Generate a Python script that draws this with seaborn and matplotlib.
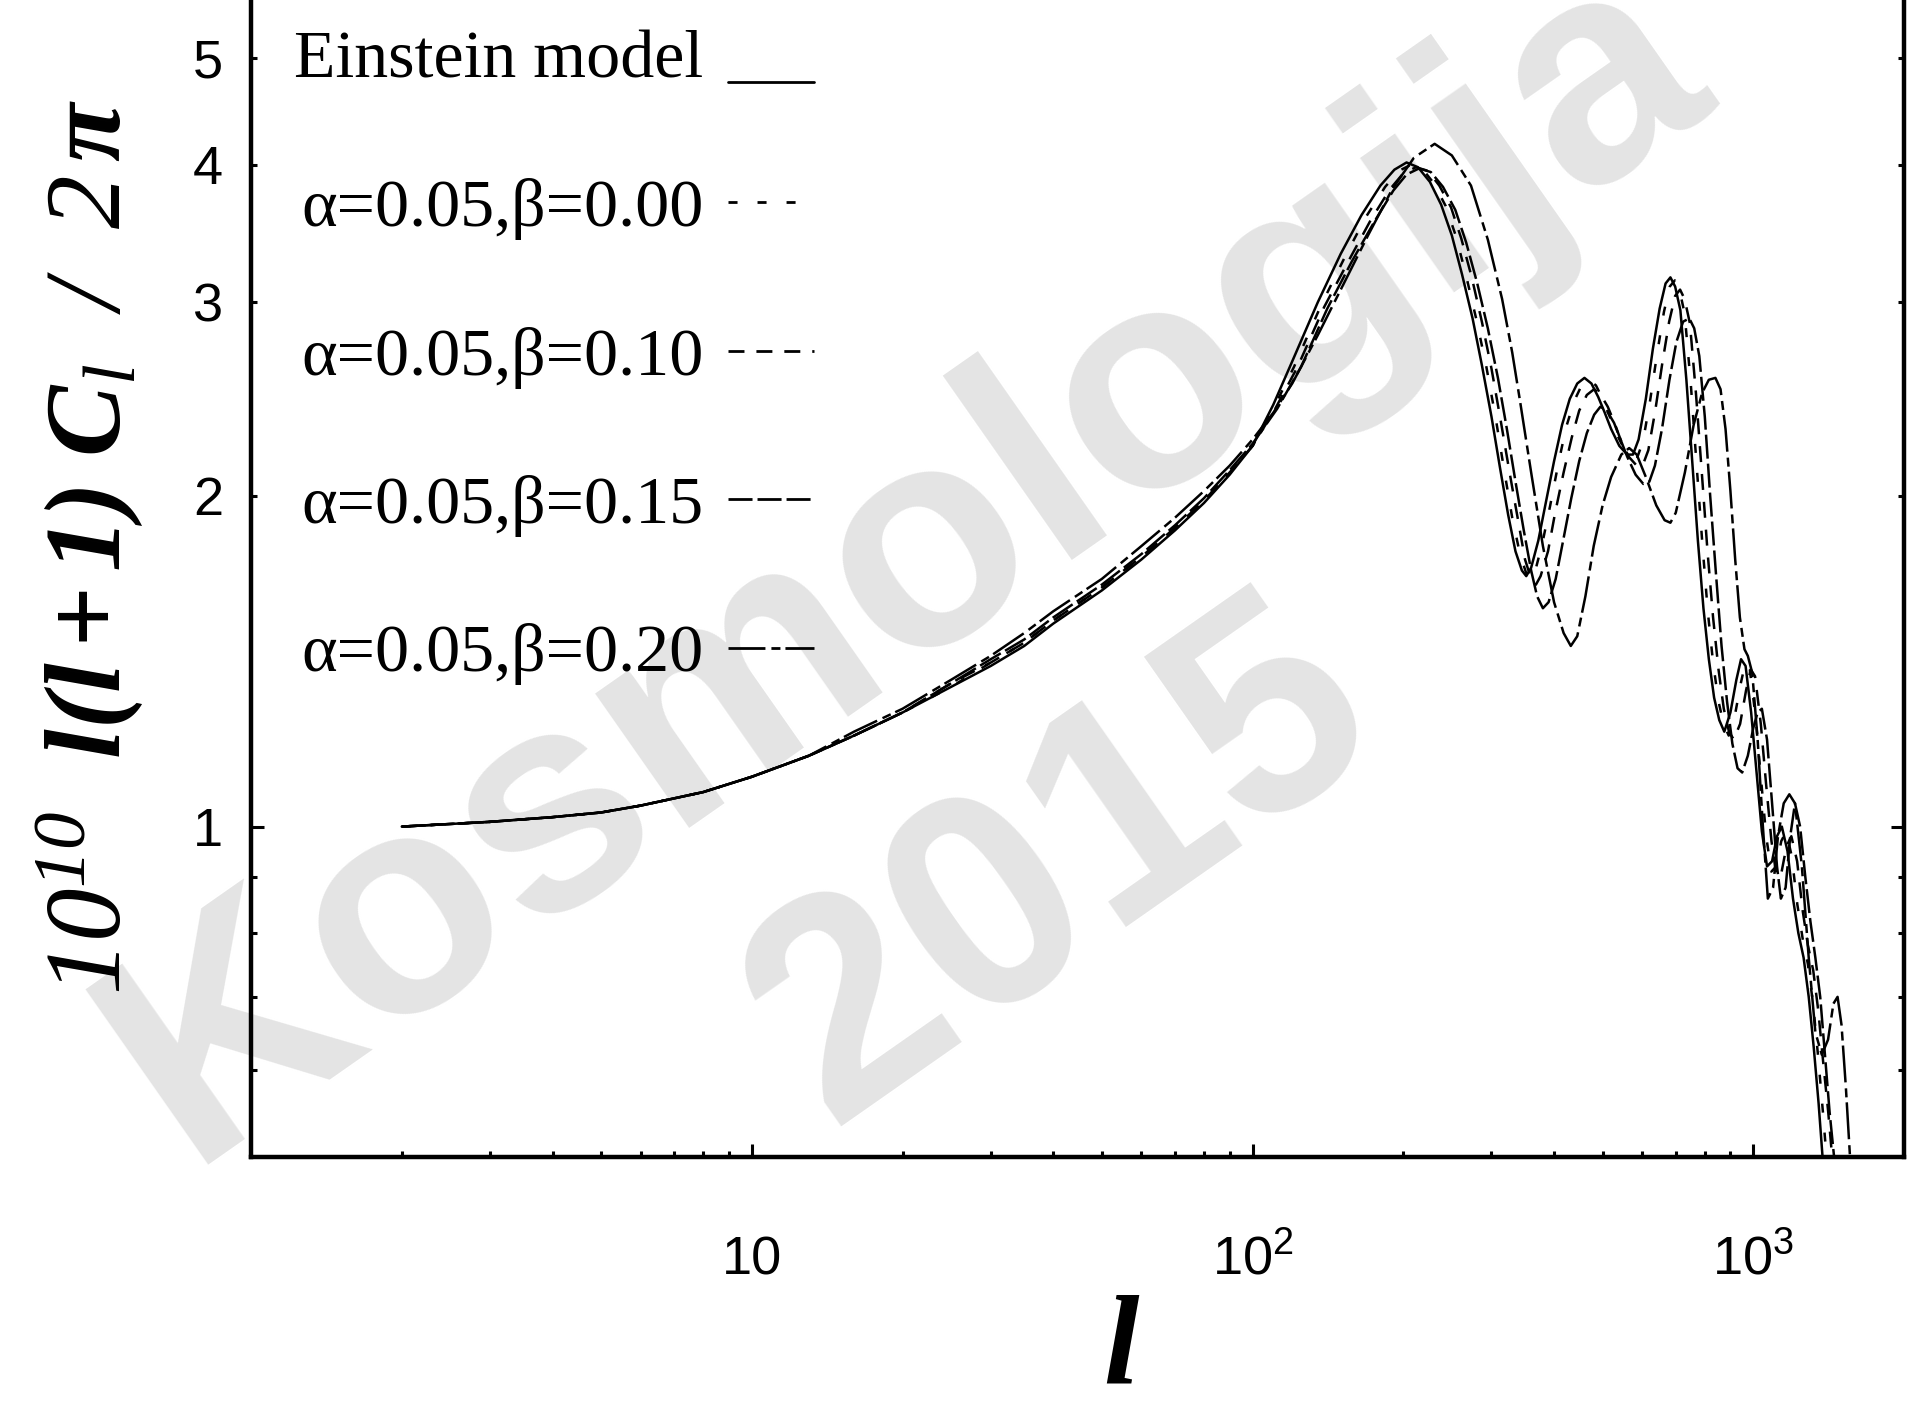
import matplotlib
matplotlib.use("Agg")
import matplotlib.pyplot as plt
from matplotlib.lines import Line2D
from matplotlib.legend_handler import HandlerLine2D
from matplotlib.ticker import NullFormatter
import numpy as np
import pandas as pd
import seaborn as sns

# ---------------- data ----------------
labels = ["Einstein model", "α=0.05,β=0.00", "α=0.05,β=0.10",
          "α=0.05,β=0.15", "α=0.05,β=0.20"]

l_einstein = [2, 3, 4, 5, 6, 8, 10, 13, 16, 20, 25, 30, 35, 40, 50, 60, 70, 80, 90, 100,
              110, 120, 135, 150, 165, 180, 192, 203, 214, 226, 238, 250, 262, 275, 287, 300, 312, 324, 335, 345,
              352, 360, 372, 385, 400, 415, 430, 445, 460, 475, 490, 505, 520, 540, 560, 575, 590, 610, 630, 650,
              668, 683, 698, 715, 735, 755, 775, 795, 815, 835, 855, 875, 900, 925, 945, 965, 990, 1015, 1040, 1065,
              1090, 1115, 1140, 1170, 1200, 1230, 1260, 1290, 1320, 1350, 1375, 1395]
cl_einstein = [1.00, 1.01, 1.02, 1.03, 1.045, 1.075, 1.11, 1.16, 1.21, 1.27, 1.34, 1.40, 1.46, 1.53, 1.64, 1.75, 1.86, 1.97, 2.09, 2.22,
               2.42, 2.65, 3.00, 3.32, 3.60, 3.83, 3.96, 4.02, 3.98, 3.86, 3.68, 3.45, 3.18, 2.90, 2.63, 2.36, 2.12, 1.92, 1.78, 1.71,
               1.69, 1.72, 1.82, 1.97, 2.15, 2.32, 2.45, 2.53, 2.56, 2.53, 2.46, 2.38, 2.30, 2.22, 2.18, 2.18, 2.25, 2.45, 2.72, 2.96,
               3.12, 3.16, 3.10, 2.95, 2.55, 2.15, 1.82, 1.58, 1.42, 1.31, 1.25, 1.22, 1.27, 1.36, 1.42, 1.40, 1.27, 1.12, 0.99, 0.92,
               0.93, 0.98, 1.00, 0.95, 0.86, 0.80, 0.76, 0.70, 0.63, 0.56, 0.50, 0.45]

l_b000 = [2, 3, 4, 5, 6, 8, 10, 13, 16, 20, 25, 30, 35, 40, 50, 60, 70, 80, 90, 100,
          110, 121, 137, 153, 168, 184, 196, 207, 218, 230, 243, 255, 267, 280, 293, 306, 318, 330, 342, 352,
          359, 367, 379, 393, 408, 423, 439, 454, 469, 485, 500, 515, 530, 551, 571, 587, 602, 622, 643, 663,
          681, 697, 712, 729, 750, 770, 791, 811, 831, 852, 872, 893, 918, 944, 964, 984, 1010, 1035, 1061, 1086,
          1112, 1137, 1163, 1193, 1224, 1255, 1285, 1316, 1346, 1377, 1400, 1420]
cl_b000 = [1.00, 1.01, 1.02, 1.03, 1.045, 1.075, 1.11, 1.16, 1.21, 1.27, 1.34, 1.41, 1.47, 1.54, 1.65, 1.76, 1.87, 1.98, 2.10, 2.22,
           2.40, 2.62, 2.98, 3.30, 3.58, 3.82, 3.95, 4.00, 3.97, 3.85, 3.67, 3.44, 3.17, 2.89, 2.62, 2.35, 2.11, 1.91, 1.77, 1.70,
           1.68, 1.71, 1.81, 1.96, 2.14, 2.31, 2.44, 2.52, 2.55, 2.52, 2.45, 2.37, 2.29, 2.21, 2.17, 2.17, 2.24, 2.44, 2.70, 2.94,
           3.10, 3.14, 3.08, 2.93, 2.53, 2.14, 1.81, 1.57, 1.41, 1.30, 1.24, 1.21, 1.26, 1.35, 1.41, 1.39, 1.26, 1.11, 0.98, 0.91,
           0.92, 0.97, 0.99, 0.94, 0.85, 0.79, 0.75, 0.69, 0.62, 0.55, 0.50, 0.45]

l_b010 = [2, 3, 4, 5, 6, 8, 10, 13, 16, 20, 25, 30, 35, 40, 50, 60, 70, 80, 90, 100,
          111, 123, 139, 156, 172, 188, 200, 212, 224, 236, 249, 261, 274, 287, 300, 313, 326, 339, 350, 360,
          368, 376, 389, 402, 418, 434, 449, 465, 481, 496, 512, 528, 543, 564, 585, 601, 617, 637, 658, 679,
          698, 714, 729, 747, 768, 789, 810, 831, 852, 873, 894, 914, 941, 967, 988, 1008, 1035, 1061, 1087, 1113,
          1139, 1165, 1191, 1223, 1254, 1285, 1317, 1348, 1379, 1411, 1437, 1455]
cl_b010 = [1.00, 1.01, 1.02, 1.03, 1.045, 1.075, 1.11, 1.16, 1.21, 1.27, 1.35, 1.41, 1.47, 1.54, 1.65, 1.76, 1.87, 1.98, 2.10, 2.22,
           2.40, 2.62, 2.97, 3.28, 3.56, 3.80, 3.93, 3.98, 3.95, 3.83, 3.66, 3.43, 3.16, 2.88, 2.61, 2.34, 2.10, 1.90, 1.75, 1.68,
           1.66, 1.69, 1.78, 1.93, 2.10, 2.26, 2.39, 2.47, 2.50, 2.47, 2.41, 2.33, 2.25, 2.17, 2.13, 2.13, 2.20, 2.39, 2.64, 2.88,
           3.04, 3.08, 3.02, 2.87, 2.48, 2.10, 1.78, 1.55, 1.39, 1.28, 1.22, 1.20, 1.24, 1.33, 1.39, 1.37, 1.24, 1.09, 0.97, 0.90,
           0.91, 0.96, 0.98, 0.93, 0.84, 0.78, 0.74, 0.68, 0.61, 0.55, 0.50, 0.45]

l_b015 = [2, 3, 4, 5, 6, 8, 10, 13, 16, 20, 25, 30, 35, 40, 50, 60, 70, 80, 90, 100,
          112, 125, 141, 158, 175, 191, 203, 215, 227, 240, 254, 267, 281, 295, 309, 322, 335, 348, 360, 370,
          380, 390, 403, 417, 433, 449, 465, 481, 495, 510, 527, 543, 560, 582, 603, 620, 636, 657, 680, 702,
          724, 745, 762, 780, 800, 820, 842, 864, 886, 908, 930, 950, 975, 1000, 1020, 1040, 1065, 1090, 1115, 1135,
          1160, 1185, 1211, 1240, 1270, 1300, 1330, 1360, 1390, 1420, 1450, 1480]
cl_b015 = [1.00, 1.01, 1.02, 1.03, 1.045, 1.075, 1.11, 1.16, 1.21, 1.27, 1.35, 1.42, 1.48, 1.55, 1.66, 1.77, 1.88, 1.99, 2.11, 2.23,
           2.40, 2.62, 2.96, 3.27, 3.55, 3.79, 3.92, 3.97, 3.94, 3.82, 3.64, 3.40, 3.12, 2.84, 2.56, 2.30, 2.06, 1.86, 1.71, 1.62,
           1.58, 1.60, 1.68, 1.82, 1.99, 2.15, 2.28, 2.37, 2.41, 2.39, 2.33, 2.25, 2.17, 2.09, 2.05, 2.06, 2.13, 2.30, 2.55, 2.76,
           2.88, 2.90, 2.84, 2.68, 2.36, 2.00, 1.70, 1.46, 1.30, 1.19, 1.13, 1.12, 1.16, 1.23, 1.27, 1.28, 1.20, 1.05, 0.92, 0.86,
           0.88, 0.98, 1.05, 1.00, 0.90, 0.82, 0.76, 0.70, 0.62, 0.55, 0.50, 0.45]

l_b020 = [2, 3, 4, 5, 6, 8, 10, 13, 16, 20, 25, 30, 35, 40, 50, 60, 70, 80, 90, 100,
          110, 120, 135, 150, 170, 190, 210, 231, 250, 273, 295, 315, 330, 342, 360, 380, 400, 418, 432, 445,
          462, 480, 500, 520, 545, 565, 585, 610, 640, 665, 683, 700, 730, 760, 790, 815, 840, 860, 880, 900,
          920, 940, 960, 975, 995, 1020, 1045, 1069, 1095, 1120, 1150, 1180, 1211, 1250, 1290, 1330, 1370, 1410, 1445, 1473,
          1500, 1530, 1560, 1590]
cl_b020 = [1.00, 1.01, 1.02, 1.03, 1.045, 1.075, 1.11, 1.16, 1.22, 1.28, 1.36, 1.43, 1.50, 1.57, 1.68, 1.80, 1.91, 2.02, 2.13, 2.25,
           2.38, 2.53, 2.80, 3.08, 3.45, 3.80, 4.06, 4.18, 4.08, 3.83, 3.42, 3.02, 2.70, 2.44, 2.10, 1.80, 1.60, 1.50, 1.46, 1.49,
           1.62, 1.80, 1.96, 2.08, 2.18, 2.21, 2.18, 2.08, 1.96, 1.90, 1.89, 1.93, 2.10, 2.32, 2.48, 2.55, 2.56, 2.50, 2.30, 2.02,
           1.75, 1.55, 1.45, 1.43, 1.38, 1.20, 1.00, 0.86, 0.88, 0.98, 1.05, 1.07, 1.05, 0.92, 0.76, 0.65, 0.62, 0.64, 0.69, 0.70,
           0.66, 0.58, 0.50, 0.44]

x_major = [10, 100, 1000]
x_major_labels = ["10", r"$\mathregular{10^{2}}$", r"$\mathregular{10^{3}}$"]
x_minor = [2, 3, 4, 5, 6, 7, 8, 9, 20, 30, 40, 50, 60, 70, 80, 90,
           200, 300, 400, 500, 600, 700, 800, 900]
y_major = [1]
y_major_labels = ["1"]
y_minor = [0.6, 0.7, 0.8, 0.9, 2, 3, 4, 5]
y_minor_labels = ["", "", "", "", "2", "3", "4", "5"]

# ---------------- style ----------------
sns.set_theme(style="ticks")
plt.rcParams.update({
    "font.family": ["Liberation Sans", "DejaVu Sans"],
    "mathtext.fontset": "custom",
    "mathtext.rm": "Liberation Serif:italic",
    "mathtext.it": "Liberation Serif:italic",
    "mathtext.bf": "Liberation Serif:italic:bold",
    "lines.scale_dashes": False,
    "axes.linewidth": 3.2,
    "axes.edgecolor": "black",
    "axes.labelcolor": "black",
    "text.color": "black",
    "xtick.color": "black",
    "ytick.color": "black",
})

dash_map = {
    labels[0]: "",
    labels[1]: (6.5, 14.4),
    labels[2]: (11.5, 8.6),
    labels[3]: (17.3, 3.6),
    labels[4]: (26.6, 4.3, 6.5, 3.6),
}


class BaselineLineHandler(HandlerLine2D):
    """Legend key drawn at the text baseline (as in the reference key)."""
    def create_artists(self, legend, orig_handle, xdescent, ydescent,
                       width, height, fontsize, trans):
        artists = super().create_artists(legend, orig_handle, xdescent, ydescent,
                                         width, height, fontsize, trans)
        for a in artists:
            a.set_ydata(np.asarray(a.get_ydata(), dtype=float) - 0.42 * fontsize)
        return artists


series = [(labels[0], l_einstein, cl_einstein),
          (labels[1], l_b000, cl_b000),
          (labels[2], l_b010, cl_b010),
          (labels[3], l_b015, cl_b015),
          (labels[4], l_b020, cl_b020)]
df = pd.concat([pd.DataFrame({"l": l, "cl": c, "model": name}) for name, l, c in series],
               ignore_index=True)

fig = plt.figure(figsize=(19.2, 14.11), dpi=100)
fig.patch.set_facecolor("white")

# watermark (behind everything)
wm = dict(color="#e4e4e4", fontweight="bold", family="Liberation Sans",
          ha="center", va="center", rotation=35, rotation_mode="anchor", zorder=0)
fig.text(0.472, 0.600, "Kosmologija", fontsize=224, **wm)
fig.text(0.554, 0.386, "2015", fontsize=220, **wm)

ax = fig.add_axes([205 / 1568, 1 - 945 / 1152, 1350 / 1568, 945 / 1152])
ax.set_zorder(1)
ax.patch.set_visible(False)
ax.set_xscale("log")
ax.set_yscale("log")

sns.lineplot(data=df, x="l", y="cl", style="model", style_order=labels,
             dashes=dash_map, color="black", linewidth=1.8,
             estimator=None, sort=False, legend=False, ax=ax)

ax.set_xlim(1, 2000)
ax.set_ylim(0.5, 5.65)
ax.spines["top"].set_visible(False)
for s in ("left", "right", "bottom"):
    ax.spines[s].set_linewidth(3.2)

ax.set_xticks(x_major, labels=x_major_labels)
ax.set_xticks(x_minor, minor=True)
ax.xaxis.set_minor_formatter(NullFormatter())
ax.set_yticks(y_major, labels=y_major_labels)
ax.set_yticks(y_minor, labels=y_minor_labels, minor=True)

ax.tick_params(which="both", direction="in", top=False, right=True,
               labelsize=39, width=2.2, labelcolor="black")
ax.tick_params(which="major", length=9.5)
ax.tick_params(which="minor", length=4)
ax.tick_params(axis="x", which="both", pad=84)
ax.tick_params(axis="y", which="both", pad=20)
for lab in ax.get_xticklabels():
    lab.set_verticalalignment("baseline")

ax.set_xlabel("l", fontsize=92, family="Liberation Serif", style="italic",
              fontweight="bold", color="black")
ax.xaxis.set_label_coords(0.526, -0.168)
ax.xaxis.label.set_verticalalignment("center")

ax.set_ylabel(r"$10^{10}\ \ \mathbf{l(l+1)\ C}_{l}\ \ /\ \ 2\,\mathbf{\pi}$",
              fontsize=77, color="black")
ax.yaxis.set_label_coords(-0.098, 0.527)
ax.yaxis.label.set_verticalalignment("center")

handles = []
for name in labels:
    d = dash_map[name]
    if d == "":
        handles.append(Line2D([], [], color="black", lw=2.0, linestyle="-"))
    else:
        handles.append(Line2D([], [], color="black", lw=2.0, dashes=d))
ax.legend(handles, labels, loc="upper left", bbox_to_anchor=(0.026, 0.974),
          frameon=False, markerfirst=False,
          prop={"family": "Liberation Serif", "size": 49}, labelcolor="black",
          handlelength=1.27, handletextpad=0.36, labelspacing=1.27,
          borderpad=0, borderaxespad=0,
          handler_map={handles[0]: BaselineLineHandler()})

fig.savefig("out.png", dpi=100, facecolor="white")
